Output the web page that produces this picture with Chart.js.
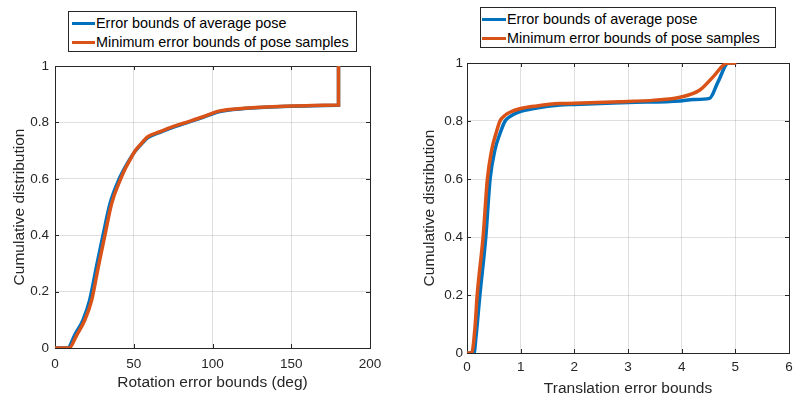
<!DOCTYPE html>
<html>
<head>
<meta charset="utf-8">
<script src="https://cdn.jsdelivr.net/npm/chart.js@4/dist/chart.umd.min.js"></script>
<style>
  html, body { margin:0; padding:0; background:#fff; }
  body { width:794px; height:400px; position:relative; overflow:hidden; font-family:"Liberation Sans", Arial, sans-serif; }
  .wrap { position:absolute; top:0; width:397px; height:400px; }
  .legend { position:absolute; box-sizing:border-box; border:1px solid #262626; background:#fff; color:#000; font-size:14.4px; }
  .row { position:absolute; left:0; height:18px; line-height:18px; white-space:nowrap; }
  .sw { position:absolute; top:7.5px; height:3.5px; }
  .tx { position:absolute; top:0; }
</style>
</head>
<body>
<div class="wrap" style="left:0"><canvas id="c1" width="397" height="400"></canvas></div>
<div class="wrap" style="left:397px"><canvas id="c2" width="397" height="400"></canvas></div>

<div class="legend" style="left:68px; top:11px; width:289px; height:41px;">
  <div class="row" style="top:2px; width:289px;"><div class="sw" style="left:3px; width:23px; background:#0072BD"></div><div class="tx" style="left:27px">Error bounds of average pose</div></div>
  <div class="row" style="top:21px; width:289px;"><div class="sw" style="left:3px; width:23px; background:#D95319"></div><div class="tx" style="left:27px">Minimum error bounds of pose samples</div></div>
</div>
<div class="legend" style="left:480px; top:7px; width:296px; height:41px;">
  <div class="row" style="top:2px; width:296px;"><div class="sw" style="left:1px; width:24px; background:#0072BD"></div><div class="tx" style="left:26px">Error bounds of average pose</div></div>
  <div class="row" style="top:21px; width:296px;"><div class="sw" style="left:1px; width:24px; background:#D95319"></div><div class="tx" style="left:26px">Minimum error bounds of pose samples</div></div>
</div>

<script>
// ---- data ----
const seriesNames = ["Error bounds of average pose", "Minimum error bounds of pose samples"];

const rotAvgX = [0, 8, 12.5, 17.8, 22, 26.3, 30.5, 35, 40.8, 46.5, 50.5, 55.5, 59, 66.7, 74, 81.5, 94, 104, 120, 150, 180, 180];
const rotAvgY = [0, 0, 0.046, 0.1, 0.17, 0.288, 0.4, 0.513, 0.6, 0.66, 0.695, 0.727, 0.746, 0.765, 0.781, 0.795, 0.818, 0.838, 0.849, 0.857, 0.861, 1];

const rotMinX = [0, 9, 13.8, 19, 23.3, 27.5, 31.7, 36, 41.7, 44.5, 47.6, 51, 55, 58.5, 66.7, 74, 81.5, 94, 104, 120, 150, 180, 180];
const rotMinY = [0, 0, 0.046, 0.1, 0.17, 0.288, 0.4, 0.513, 0.6, 0.635, 0.667, 0.7, 0.726, 0.748, 0.767, 0.783, 0.797, 0.82, 0.84, 0.85, 0.858, 0.862, 1];

const trAvgX = [0, 0.13, 0.17, 0.24, 0.35, 0.43, 0.52, 0.615, 0.71, 0.8, 0.95, 1.3, 1.73, 2.0, 2.85, 3.0, 3.97, 4.22, 4.52, 4.68, 4.87, 5.0];
const trAvgY = [0, 0, 0.06, 0.2, 0.4, 0.6, 0.7, 0.757, 0.8, 0.815, 0.83, 0.845, 0.855, 0.857, 0.863, 0.864, 0.869, 0.874, 0.878, 0.936, 1.0, 1.0];

const trMinX = [0, 0.087, 0.15, 0.19, 0.30, 0.38, 0.46, 0.54, 0.615, 0.7, 0.8, 1.0, 1.3, 1.73, 2.0, 2.85, 3.5, 3.97, 4.34, 4.59, 4.84, 5.02];
const trMinY = [0, 0, 0.09, 0.2, 0.4, 0.6, 0.7, 0.757, 0.8, 0.818, 0.83, 0.843, 0.852, 0.86, 0.861, 0.866, 0.872, 0.882, 0.907, 0.953, 0.999, 1.0];

const rotXTicks = [0, 50, 100, 150, 200];
const trXTicks = [0, 1, 2, 3, 4, 5, 6];
const yTicks = [0, 0.2, 0.4, 0.6, 0.8, 1];

const BLUE = "#0072BD", ORANGE = "#D95319", AXIS = "#262626", GRID = "rgba(38,38,38,0.15)";
const FONT = "'Liberation Sans', Arial, sans-serif";

function pts(xs, ys) { return xs.map((x, i) => ({x: x, y: ys[i]})); }

// frame (top/right sides) and inward ticks on all four sides
const framePlugin = {
  id: 'frame',
  beforeDatasetsDraw(chart) {
    const {ctx, chartArea: a, scales} = chart;
    ctx.save();
    ctx.strokeStyle = AXIS;
    ctx.lineWidth = 1;
    ctx.beginPath();
    ctx.rect(Math.round(a.left) + 0.5, Math.round(a.top) + 0.5, Math.round(a.right - a.left), Math.round(a.bottom - a.top));
    ctx.stroke();
    const L = 4;
    ctx.beginPath();
    scales.x.ticks.forEach(t => {
      const px = Math.round(scales.x.getPixelForValue(t.value)) + 0.5;
      ctx.moveTo(px, a.bottom); ctx.lineTo(px, a.bottom - L);
      ctx.moveTo(px, a.top); ctx.lineTo(px, a.top + L);
    });
    scales.y.ticks.forEach(t => {
      const py = Math.round(scales.y.getPixelForValue(t.value)) + 0.5;
      ctx.moveTo(a.left, py); ctx.lineTo(a.left + L, py);
      ctx.moveTo(a.right, py); ctx.lineTo(a.right - L, py);
    });
    ctx.stroke();
    ctx.restore();
  }
};

function makeChart(id, cfg) {
  return new Chart(document.getElementById(id), {
    type: 'line',
    data: {
      datasets: [
        { label: seriesNames[0], data: pts(cfg.ax, cfg.ay), borderColor: BLUE, backgroundColor: BLUE, borderWidth: 3.5, pointRadius: 0, cubicInterpolationMode: 'monotone', order: 2 },
        { label: seriesNames[1], data: pts(cfg.mx, cfg.my), borderColor: ORANGE, backgroundColor: ORANGE, borderWidth: 3.5, pointRadius: 0, cubicInterpolationMode: 'monotone', order: 1 }
      ]
    },
    options: {
      responsive: false,
      animation: false,
      events: [],
      layout: { padding: { left: 0, right: cfg.padRight, top: cfg.padTop, bottom: 0 } },
      plugins: { legend: { display: false }, tooltip: { enabled: false } },
      scales: {
        x: {
          type: 'linear', min: cfg.xTicks[0], max: cfg.xTicks[cfg.xTicks.length - 1],
          afterBuildTicks: s => { s.ticks = cfg.xTicks.map(v => ({value: v})); },
          afterFit: s => { s.height = cfg.xAxisH; s.paddingLeft = 0; s.paddingRight = 0; },
          grid: { color: GRID, lineWidth: 1, drawTicks: false },
          border: { display: true, color: AXIS, width: 1 },
          ticks: { color: AXIS, font: { family: FONT, size: 13.5, lineHeight: 1 }, padding: cfg.xTickPad, maxRotation: 0, autoSkip: false, callback: v => String(v) },
          title: { display: true, text: cfg.xTitle, color: AXIS, font: { family: FONT, size: 15.5, lineHeight: 1 }, padding: { top: 0, bottom: cfg.xTitlePad } }
        },
        y: {
          type: 'linear', min: 0, max: 1,
          afterBuildTicks: s => { s.ticks = yTicks.map(v => ({value: v})); },
          afterFit: s => { s.width = cfg.yAxisW; s.paddingTop = 0; s.paddingBottom = 0; },
          grid: { color: GRID, lineWidth: 1, drawTicks: false },
          border: { display: true, color: AXIS, width: 1 },
          ticks: { color: AXIS, font: { family: FONT, size: 13.5, lineHeight: 1 }, padding: cfg.yTickPad, autoSkip: false, callback: v => String(v) },
          title: { display: true, text: 'Cumulative distribution', color: AXIS, font: { family: FONT, size: 15.5, lineHeight: 1 }, padding: { top: cfg.yTitlePad, bottom: 0 } }
        }
      }
    },
    plugins: [framePlugin]
  });
}

makeChart('c1', {
  ax: rotAvgX, ay: rotAvgY, mx: rotMinX, my: rotMinY,
  xTicks: rotXTicks, xTitle: 'Rotation error bounds (deg)',
  padRight: 27, padTop: 66, xAxisH: 52, yAxisW: 55,
  xTickPad: 10, xTitlePad: 10, yTickPad: 6, yTitlePad: 12
});

makeChart('c2', {
  ax: trAvgX, ay: trAvgY, mx: trMinX, my: trMinY,
  xTicks: trXTicks, xTitle: 'Translation error bounds',
  padRight: 5, padTop: 63, xAxisH: 47, yAxisW: 70,
  xTickPad: 8, xTitlePad: 4, yTickPad: 4, yTitlePad: 25
});
</script>
</body>
</html>
